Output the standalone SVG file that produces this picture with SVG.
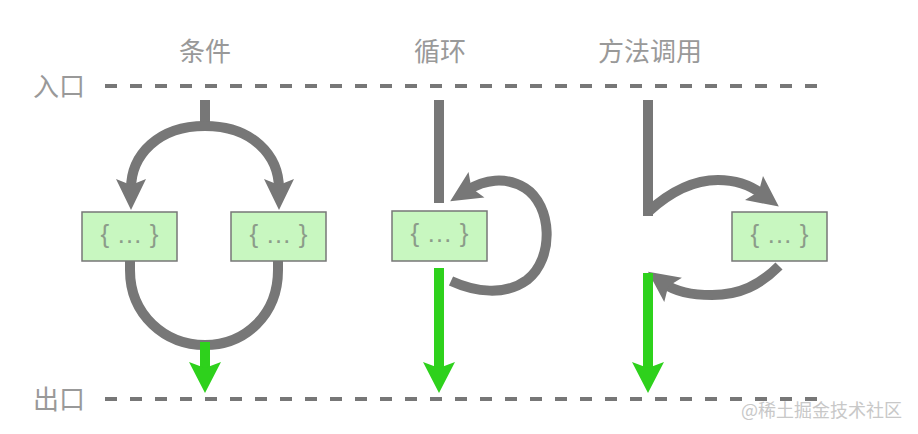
<svg xmlns="http://www.w3.org/2000/svg" width="918" height="434" viewBox="0 0 918 434">
<style>
.lbl{font-family:"Noto Sans CJK SC","Noto Sans",sans-serif;font-size:26px;fill:#999;}
.dash{stroke:#777;stroke-width:4;stroke-dasharray:12 13;fill:none;}
.gl{stroke:#777;stroke-width:10;fill:none;}
.gr{stroke:#2ed11c;stroke-width:10;fill:none;}
.box{fill:#c8f7c0;stroke:#777;stroke-width:1.5;}
.bt{font-family:"Liberation Sans",Arial,sans-serif;font-size:26px;fill:#8c9c8a;text-anchor:middle;}
.wm{font-family:"Noto Sans CJK SC",sans-serif;font-size:18px;fill:#c8c8c8;}
</style>
<defs>
<marker id="ag" markerUnits="userSpaceOnUse" markerWidth="32" markerHeight="32" refX="10" refY="15" orient="auto" overflow="visible">
<path d="M31,15 L0,0 L6,15 L0,30 Z" fill="#777"/>
</marker>
<marker id="agr" markerUnits="userSpaceOnUse" markerWidth="34" markerHeight="34" refX="10" refY="16" orient="auto" overflow="visible">
<path d="M31,16 L0,0 L6,16 L0,32 Z" fill="#2ed11c"/>
</marker>
</defs>
<g id="labels">
<text class="lbl" x="205" y="61" text-anchor="middle">条件</text>
<text class="lbl" x="440" y="61" text-anchor="middle">循环</text>
<text class="lbl" x="650" y="61" text-anchor="middle">方法调用</text>
<text class="lbl" x="33" y="96">入口</text>
<text class="lbl" x="33" y="409">出口</text>
</g>
<g id="connectors">
<line class="dash" x1="105" y1="86" x2="822" y2="86"/>
<line class="dash" x1="105" y1="399" x2="822" y2="399"/>
<path class="gl" d="M205,100 L205,126"/>
<path class="gl" d="M205,126 C158,126 131,155 131,189" marker-end="url(#ag)"/>
<path class="gl" d="M205,126 C252,126 279,155 279,189" marker-end="url(#ag)"/>
<path class="gl" d="M130,261 L130,270 C130,315 165,345 205,345 C245,345 278,315 278,270 L278,261"/>
<path class="gr" d="M205,342 L205,372" marker-end="url(#agr)"/>
<path class="gl" d="M439,100 L439,203"/>
<path class="gl" d="M451,281 C475,292 505,296 527,280 C555,258 552,205 525,188 C505,176 484,180 468,190" marker-end="url(#ag)"/>
<path class="gr" d="M439,268 L439,372" marker-end="url(#agr)"/>
<path class="gl" d="M648,100 L648,216"/>
<path class="gl" d="M648,212 C672,190 695,180 718,180 C735,180 750,185 762,194" marker-end="url(#ag)"/>
<path class="gl" d="M779,266 C760,285 740,295 712,295 C692,295 676,292 665,284" marker-end="url(#ag)"/>
<path class="gr" d="M648,273 L648,372" marker-end="url(#agr)"/>
</g>
<g id="box1"><rect class="box" x="82" y="212" width="95" height="49"/><text class="bt" x="129.5" y="243">{ … }</text></g>
<g id="box2"><rect class="box" x="231" y="212" width="95" height="49"/><text class="bt" x="278.5" y="243">{ … }</text></g>
<g id="box3"><rect class="box" x="392" y="211" width="95" height="50"/><text class="bt" x="439.5" y="242">{ … }</text></g>
<g id="box4"><rect class="box" x="732" y="212" width="95" height="49"/><text class="bt" x="779.5" y="243">{ … }</text></g>
<text class="wm" x="741" y="417">@稀土掘金技术社区</text>
</svg>
